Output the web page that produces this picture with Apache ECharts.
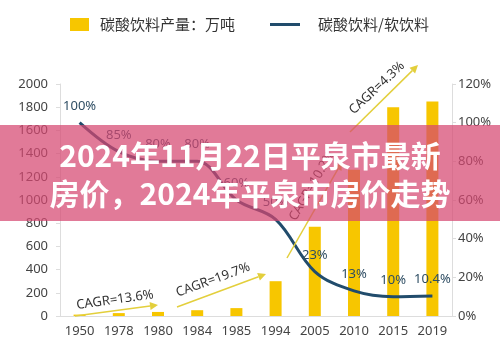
<!DOCTYPE html>
<html>
<head>
<meta charset="utf-8">
<script src="https://cdn.jsdelivr.net/npm/echarts@6/dist/echarts.min.js"></script>
<style>
html,body{margin:0;padding:0;background:#fff;}
#main{width:500px;height:347px;}
</style>
</head>
<body>
<div id="main"></div>
<script>
const years = ['1950','1978','1980','1984','1985','1994','2005','2010','2015','2019'];
const production = [12, 25, 35, 50, 68, 300, 770, 1260, 1800, 1850];
const ratio = [100, 85, 80, 80, 60, 50, 23, 13, 10, 10.4];
const leftTicks = [0, 2000, 200];
const rightTicks = [0, 120, 20];
const barName = '碳酸饮料产量：万吨';
const lineName = '碳酸饮料/软饮料';
const titleLines = ['2024年11月22日平泉市最新', '房价，2024年平泉市房价走势'];

const numFont = 'Noto Sans';
const cjkFont = 'Noto Sans CJK SC';
const arrowColor = '#e3cf3c';

function arrow(x1, y1, x2, y2) {
  const ang = Math.atan2(y2 - y1, x2 - x1);
  const L = 8, W = 4;
  const bx = x2 - L * Math.cos(ang), by = y2 - L * Math.sin(ang);
  const px = -Math.sin(ang) * W, py = Math.cos(ang) * W;
  return [
    {type:'line', shape:{x1:x1,y1:y1,x2:bx,y2:by}, style:{stroke:arrowColor, lineWidth:1.5}, z:5},
    {type:'polygon', shape:{points:[[x2,y2],[bx+px,by+py],[bx-px,by-py]]}, style:{fill:arrowColor}, z:5}
  ];
}
function cagr(text, x, y, deg) {
  return {type:'text', x:x, y:y, rotation: deg*Math.PI/180,
    style:{text:text, fill:'#333', font:'13px "'+numFont+'"', textAlign:'center', textVerticalAlign:'middle'}, z:6};
}

const chart = echarts.init(document.getElementById('main'), null, {renderer:'canvas'});
const graphics = [].concat(
  arrow(75, 316, 158, 305),
  arrow(177, 307, 266, 274),
  arrow(287, 258, 342, 162),
  arrow(350, 132, 418, 65),
  [
    cagr('CAGR=13.6%', 115, 300, 8),
    cagr('CAGR=19.7%', 213, 280, 20),
    cagr('CAGR=10.2%', 312, 186, 60),
    cagr('CAGR=4.3%', 377, 88, 43),
    {type:'rect', shape:{x:0,y:125,width:500,height:96}, style:{fill:'rgba(214,70,112,0.72)'}, z:20},
    {type:'text', x:250, y:156, style:{text:titleLines[0], fill:'#fff', font:'bold 30px "'+cjkFont+'"', textAlign:'center', textVerticalAlign:'middle'}, z:21},
    {type:'text', x:250, y:194, style:{text:titleLines[1], fill:'#fff', font:'bold 30px "'+cjkFont+'"', textAlign:'center', textVerticalAlign:'middle'}, z:21}
  ]
);

chart.setOption({
  animation:false,
  backgroundColor:'#fff',
  legend:[
    {data:[barName], left:65, top:12, itemWidth:19, itemHeight:13, icon:'rect',
     textStyle:{fontSize:15, color:'#333', fontFamily:cjkFont, padding:[0,0,0,6]}},
    {data:[lineName], left:265, top:12, itemWidth:30, itemHeight:3, icon:'rect',
     textStyle:{fontSize:15, color:'#333', fontFamily:cjkFont, padding:[0,0,0,13]}}
  ],
  grid:{left:60, right:48, top:84, bottom:31},
  xAxis:{type:'category', data:years, boundaryGap:true,
    axisLine:{lineStyle:{color:'#ddd'}},
    axisTick:{inside:true, length:5, lineStyle:{color:'#ddd'}},
    axisLabel:{color:'#444', fontSize:13, fontFamily:numFont, margin:9}},
  yAxis:[
    {type:'value', min:leftTicks[0], max:leftTicks[1], interval:leftTicks[2],
     axisLine:{show:true, lineStyle:{color:'#ddd'}}, axisTick:{show:true, length:4, lineStyle:{color:'#ddd'}},
     splitLine:{show:false}, axisLabel:{color:'#444', fontSize:13, fontFamily:numFont, margin:12, formatter:function(v){return String(v);}}},
    {type:'value', min:rightTicks[0], max:rightTicks[1], interval:rightTicks[2],
     axisLine:{show:true, lineStyle:{color:'#ddd'}}, axisTick:{show:true, length:4, lineStyle:{color:'#ddd'}},
     splitLine:{show:false}, axisLabel:{color:'#444', fontSize:13, fontFamily:numFont, margin:6, formatter:'{value}%'}}
  ],
  series:[
    {name:barName, type:'bar', data:production, barWidth:12, itemStyle:{color:'#f7c600'}, z:2},
    {name:lineName, type:'line', yAxisIndex:1, data:ratio, smooth:0.35, symbol:'circle', symbolSize:0.1, showSymbol:true,
     lineStyle:{color:'#214c6c', width:3}, itemStyle:{color:'#214c6c'},
     label:{show:true, position:'top', distance:10, color:'#2e4d63', fontSize:13, fontFamily:numFont, formatter:'{c}%'}, z:3}
  ],
  graphic:graphics
});
</script>
</body>
</html>
